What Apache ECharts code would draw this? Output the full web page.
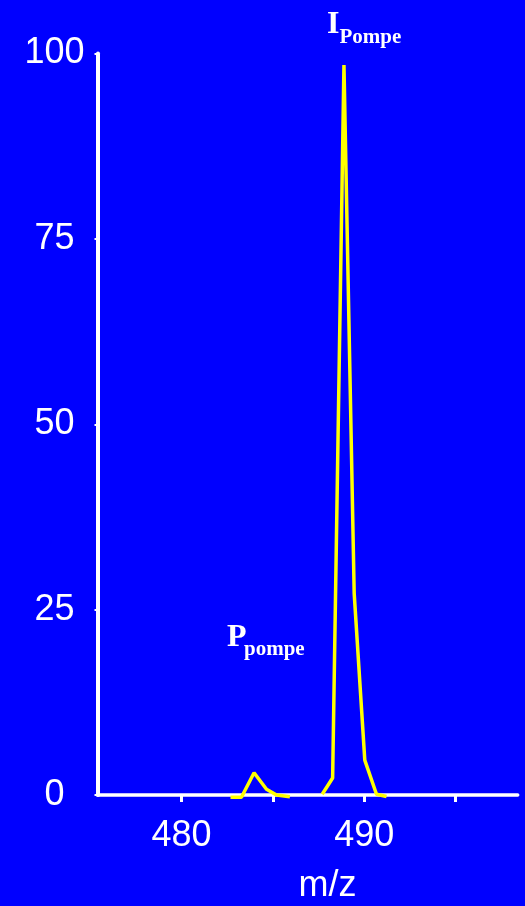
<!DOCTYPE html>
<html>
<head>
<meta charset="utf-8">
<script src="https://cdn.jsdelivr.net/npm/echarts@6/dist/echarts.min.js"></script>
<style>
  html, body { margin: 0; padding: 0; background: #0000FF; }
  #chart { width: 525px; height: 906px; }
</style>
</head>
<body>
<div id="chart"></div>
<script>
// Mass spectrum: m/z against relative intensity (%)
const mzValues = [482.68, 483.28, 483.97, 484.65, 485.2, 485.93, null,
                  487.7, 488.27, 488.89, 489.45, 490.03, 490.67, 491.22];
const intensity = [-0.3, -0.3, 3.0, 0.77, 0.0, -0.23, null,
                   0.1, 2.3, 98.45, 27.2, 4.7, 0.1, -0.2];
const yTicks = [0, 25, 50, 75, 100];
const xTickValues = [480, 485, 490, 495];
const xLabelValues = [480, 490];

// pair x/y; a null entry breaks the trace
const spectrum = mzValues.map((x, i) =>
  x === null ? [null, '-'] : [x, intensity[i]]);

const white = '#FFFFFF';
const chart = echarts.init(document.getElementById('chart'));
chart.setOption({
  backgroundColor: '#0000FF',
  animation: false,
  grid: { left: 97.5, right: 7.3, top: 53.5, bottom: 111, containLabel: false, outerBoundsMode: 'none' },
  xAxis: {
    type: 'value',
    min: 475.4,
    max: 498.4,
    name: 'm/z',
    nameLocation: 'middle',
    nameGap: 73,
    nameTextStyle: { color: white, fontFamily: 'Liberation Sans', fontSize: 36, padding: [0, 0, 0, 40] },
    axisLine: { show: true, lineStyle: { color: white, width: 3.5 } },
    axisTick: { show: true, length: 7, customValues: xTickValues, lineStyle: { color: white, width: 3 } },
    axisLabel: { customValues: xLabelValues, color: white, fontFamily: 'Liberation Sans', fontSize: 36, margin: 23 },
    splitLine: { show: false }
  },
  yAxis: {
    type: 'value',
    min: yTicks[0],
    max: yTicks[yTicks.length - 1],
    interval: 25,
    axisLine: { show: true, lineStyle: { color: white, width: 4 } },
    axisTick: { show: true, length: 3, lineStyle: { color: white, width: 2 } },
    axisLabel: { color: white, fontFamily: 'Liberation Sans', fontSize: 36, margin: 43, align: 'center' },
    splitLine: { show: false }
  },
  series: [{
    type: 'line',
    data: spectrum,
    connectNulls: false,
    clip: false,
    showSymbol: false,
    symbol: 'none',
    lineStyle: { color: '#FFFF00', width: 3.5 }
  }],
  graphic: [
    { type: 'text', left: 327, top: 9,
      style: { text: 'I', fill: white, font: 'bold 32px "Liberation Serif"' } },
    { type: 'text', left: 339.5, top: 27,
      style: { text: 'Pompe', fill: white, font: 'bold 21px "Liberation Serif"' } },
    { type: 'text', left: 227, top: 622,
      style: { text: 'P', fill: white, font: 'bold 32px "Liberation Serif"' } },
    { type: 'text', left: 244, top: 639,
      style: { text: 'pompe', fill: white, font: 'bold 21px "Liberation Serif"' } }
  ]
});
</script>
</body>
</html>
